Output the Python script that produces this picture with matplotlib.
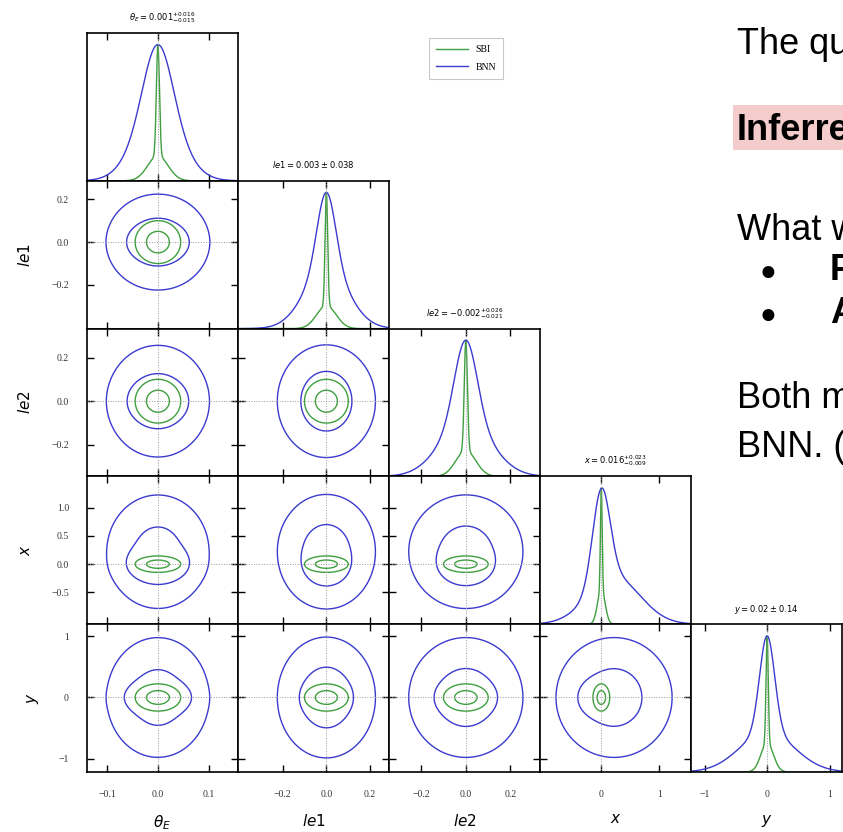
import numpy as np
import matplotlib.pyplot as plt
from matplotlib.patches import Rectangle

plt.rcParams['font.family'] = ['Liberation Serif', 'DejaVu Serif']
plt.rcParams['mathtext.fontset'] = 'dejavusans'

# parameters of the corner plot
labels = [r"$\theta_E$", r"$le1$", r"$le2$", r"$x$", r"$y$"]
titles = [r"$\theta_E = 0.001^{+0.016}_{-0.015}$",
          r"$le1 = 0.003 \pm 0.038$",
          r"$le2 = -0.002^{+0.026}_{-0.021}$",
          r"$x = 0.016^{+0.023}_{-0.009}$",
          r"$y = 0.02 \pm 0.14$"]
lims = [(-0.139, 0.157), (-0.405, 0.287), (-0.345, 0.333), (-1.06, 1.55), (-1.22, 1.20)]
xticks = [[-0.1, 0.0, 0.1], [-0.2, 0.0, 0.2], [-0.2, 0.0, 0.2], [0, 1], [-1, 0, 1]]
xticklabels = [["\u22120.1", "0.0", "0.1"], ["\u22120.2", "0.0", "0.2"],
               ["\u22120.2", "0.0", "0.2"], ["0", "1"], ["\u22121", "0", "1"]]
yticks = [None, [-0.2, 0.0, 0.2], [-0.2, 0.0, 0.2], [-0.5, 0.0, 0.5, 1.0], [-1, 0, 1]]
yticklabels = [None, ["\u22120.2", "0.0", "0.2"], ["\u22120.2", "0.0", "0.2"],
               ["\u22120.5", "0.0", "0.5", "1.0"], ["\u22121", "0", "1"]]
truth = [0.0, 0.0, 0.0, 0.0, 0.0]

# posterior shapes: narrow core + broad wings
bnn_core = [0.028, 0.042, 0.050, 0.15, 0.12]
bnn_wide = [0.045, 0.10, 0.115, 0.45, 0.44]
bnn_shift = [0.0, 0.0, 0.0, 0.22, 0.0]
bnn_frac = [0.4, 0.35, 0.4, 0.4, 0.4]
sbi_core = [0.003, 0.006, 0.007, 0.015, 0.018]
sbi_wide = [0.020, 0.045, 0.045, 0.065, 0.10]
sbi_shift = [0.0, 0.0, 0.0, 0.0, 0.0]
sbi_frac = [0.4, 0.4, 0.4, 0.4, 0.4]
levels = [0.68, 0.95]

GREEN = '#3f9f3f'
BLUE = '#3b3bcf'


def gauss(v, mu, s):
    return np.exp(-0.5 * ((v - mu) / s) ** 2) / s


def marginal(v, k, core, wide, shift, frac):
    return frac[k] * gauss(v, 0, core[k]) + (1 - frac[k]) * gauss(v, shift[k], wide[k])


def joint(gx, gy, j, i, core, wide, shift, frac):
    f = 0.5 * (frac[i] + frac[j])
    zc = np.outer(gauss(gy, 0, core[i]), gauss(gx, 0, core[j]))
    zw = np.outer(gauss(gy, shift[i], wide[i]), gauss(gx, shift[j], wide[j]))
    return f * zc + (1 - f) * zw


def grid(k):
    lo, hi = lims[k]
    span = hi - lo
    return np.linspace(lo - span, hi + span, 1000)


models = [(sbi_core, sbi_wide, sbi_shift, sbi_frac, GREEN),
          (bnn_core, bnn_wide, bnn_shift, bnn_frac, BLUE)]

fig = plt.figure(figsize=(8.43, 8.32), dpi=100)
W, H = 843.0, 832.0
cw, rh = 151.0, 147.8
n = len(labels)
for i in range(n):
    for j in range(i + 1):
        left = (87 + j * cw) / W
        bottom = (H - (33 + (i + 1) * rh)) / H
        ax = fig.add_axes([left, bottom, cw / W, rh / H])
        for side in ax.spines.values():
            side.set_linewidth(1.2)
        ax.tick_params(direction='in', top=True, right=True, length=5, width=1,
                       labelsize=7, labelcolor='#333333', pad=13)
        ax.set_xlim(lims[j])
        ax.set_xticks(xticks[j])
        if i == j:
            v = np.linspace(lims[j][0], lims[j][1], 600)
            for core, wide, shift, frac, col in models:
                p = marginal(v, j, core, wide, shift, frac)
                ax.plot(v, p / p.max(), color=col, lw=1)
            ax.axvline(truth[j], color='#999999', lw=0.7, ls=':')
            ax.set_ylim(0, 1.085)
            ax.set_yticks([])
            ax.set_title(titles[j], fontsize=6, pad=9)
        else:
            gx, gy = grid(j), grid(i)
            for core, wide, shift, frac, col in models:
                z = joint(gx, gy, j, i, core, wide, shift, frac)
                zs = np.sort(z.ravel())[::-1]
                cum = np.cumsum(zs) / zs.sum()
                lv = sorted(zs[np.searchsorted(cum, lev)] for lev in levels)
                ax.contour(gx, gy, z, levels=lv, colors=col, linewidths=1)
            ax.axvline(truth[j], color='#999999', lw=0.7, ls=':')
            ax.axhline(truth[i], color='#999999', lw=0.7, ls=':')
            ax.set_ylim(lims[i])
            ax.set_yticks(yticks[i])
        if i == n - 1:
            ax.set_xticklabels(xticklabels[j])
            ax.set_xlabel(labels[j], fontsize=11, labelpad=10)
        else:
            ax.set_xticklabels([])
        if j == 0 and i > 0:
            ax.set_yticklabels(yticklabels[i])
            ax.set_ylabel(labels[i], fontsize=11, labelpad=13)
        elif i != j:
            ax.set_yticklabels([])

handles = [plt.Line2D([], [], color=GREEN, lw=1), plt.Line2D([], [], color=BLUE, lw=1)]
leg = fig.legend(handles, ["SBI", "BNN"], loc='upper left', bbox_to_anchor=(0.503, 0.960),
                 fontsize=7, handlelength=3.3, fancybox=False, borderpad=0.7, labelspacing=0.9)
leg.get_frame().set_edgecolor('#bbbbbb')
leg.get_frame().set_linewidth(0.8)

# slide text on the right, cut by the page edge
fig.patches.append(Rectangle((733 / W, 1 - 150 / H), 0.14, 45 / H, transform=fig.transFigure,
                             facecolor='#f4cccc', edgecolor='none', zorder=0))
sans = ['Liberation Sans', 'DejaVu Sans']
fig.text(737 / W, 1 - 54 / H, "The qu", fontsize=26, family=sans, va='baseline')
fig.text(737 / W, 1 - 140 / H, "Inferre", fontsize=26, family=sans, weight='bold', va='baseline')
fig.text(737 / W, 1 - 240 / H, "What w", fontsize=26, family=sans, va='baseline')
for yb, word in [(280, "F"), (323, "A")]:
    fig.text(760 / W, 1 - yb / H, "\u25cf", fontsize=20, family=sans, va='baseline')
    fig.text(830 / W, 1 - yb / H, word, fontsize=26, family=sans, weight='bold', va='baseline')
fig.text(737 / W, 1 - 408 / H, "Both m", fontsize=26, family=sans, va='baseline')
fig.text(737 / W, 1 - 457 / H, "BNN. (", fontsize=26, family=sans, va='baseline')

fig.savefig("out.png", dpi=100)
